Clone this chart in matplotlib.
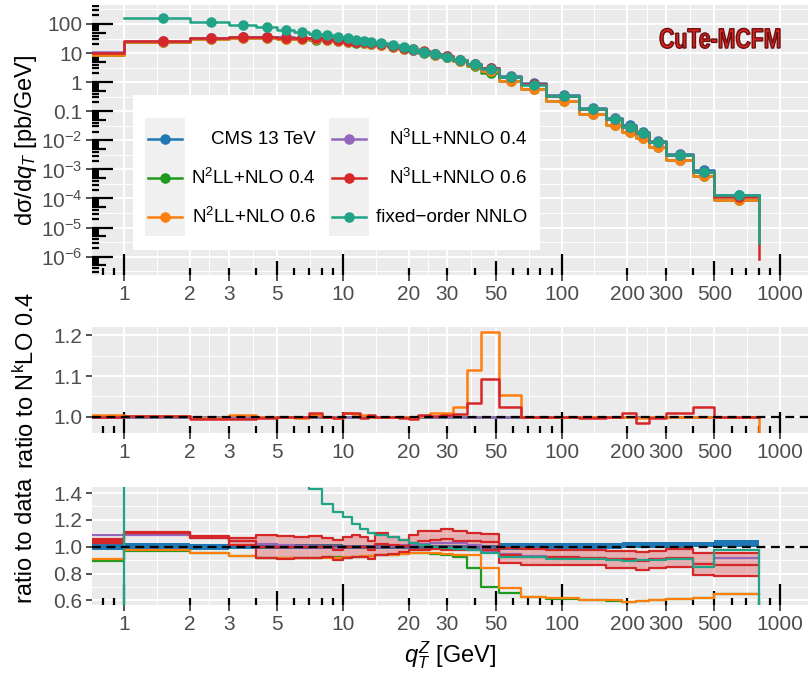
import numpy as np
import matplotlib
matplotlib.use("Agg")
import matplotlib.pyplot as plt
import matplotlib.transforms as mtransforms
import matplotlib.patheffects as pe
from matplotlib.patches import Rectangle, PathPatch
from matplotlib.lines import Line2D
from matplotlib.textpath import TextPath
from matplotlib.font_manager import FontProperties
from matplotlib.ticker import FixedLocator, FixedFormatter, NullFormatter

plt.rcParams["font.family"] = ["Liberation Sans", "DejaVu Sans"]
plt.rcParams["mathtext.fontset"] = "custom"
plt.rcParams["mathtext.rm"] = "Liberation Sans"
plt.rcParams["mathtext.it"] = "Liberation Sans:italic"
plt.rcParams["mathtext.default"] = "regular"

# qT bins of the CMS 13 TeV measurement [GeV]
edges = [0, 1, 2, 3, 4, 5, 6, 7, 8, 9, 10, 11, 12, 13, 14, 16, 18, 20, 22, 25,
         28, 32, 37, 43, 52, 65, 85, 120, 160, 190, 220, 250, 300, 400, 500, 800]

# measured d sigma / d qT [pb/GeV] and relative uncertainty (up / down)
cms = [9.8, 24.5, 32, 34.5, 35, 34.5, 33.5, 32, 30.5, 28.5, 27, 25, 23.5, 22, 20,
       17.5, 15, 13, 11, 9.2, 7.5, 5.7, 4.2, 3.0, 1.62, 0.9, 0.36, 0.134, 0.058,
       0.033, 0.0195, 0.0097, 0.0034, 0.00095, 0.000135]
cms_err_up = [0.025, 0.025, 0.022, 0.02, 0.02, 0.02, 0.02, 0.02, 0.02, 0.02,
              0.015, 0.015, 0.015, 0.015, 0.015, 0.015, 0.015, 0.015, 0.015, 0.015,
              0.015, 0.015, 0.015, 0.015, 0.028, 0.028, 0.028, 0.028, 0.028,
              0.032, 0.032, 0.032, 0.032, 0.037, 0.05]
cms_err_dn = [0.025, 0.025, 0.022, 0.02, 0.02, 0.02, 0.02, 0.02, 0.02, 0.02,
              0.015, 0.015, 0.015, 0.015, 0.015, 0.015, 0.015, 0.015, 0.015, 0.015,
              0.015, 0.015, 0.015, 0.015, 0.025, 0.025, 0.025, 0.02, 0.015,
              0.01, 0.01, 0.01, 0.01, 0.005, 0.005]

# predictions divided by data (bottom panel)
r_n2ll_04 = [0.895, 0.97, 0.955, 0.93, 0.915, 0.915, 0.915, 0.915, 0.92, 0.92,
             0.915, 0.92, 0.925, 0.93, 0.935, 0.94, 0.945, 0.95, 0.95, 0.945,
             0.94, 0.92, 0.843, 0.697, 0.657, 0.625, 0.612, 0.603, 0.598, 0.588,
             0.596, 0.603, 0.608, 0.618, 0.645]
r_n2ll_06 = [0.905, 0.972, 0.952, 0.932, 0.915, 0.915, 0.913, 0.916, 0.918, 0.916,
             0.92, 0.925, 0.928, 0.93, 0.935, 0.94, 0.945, 0.95, 0.952, 0.95,
             0.948, 0.94, 0.938, 0.838, 0.69, 0.627, 0.614, 0.605, 0.6, 0.59,
             0.598, 0.605, 0.61, 0.62, 0.647]
r_n3ll_04 = [1.087, 1.09, 1.062, 1.04, 1.02, 1.012, 1.008, 1.0, 0.995, 0.99,
             0.995, 1.0, 1.0, 1.0, 1.0, 1.005, 1.01, 1.015, 1.02, 1.025,
             1.03, 1.025, 1.015, 0.96, 0.945, 0.93, 0.92, 0.915, 0.91, 0.905,
             0.9, 0.905, 0.91, 0.87, 0.913]
r_n3ll_06 = [1.04, 1.105, 1.072, 1.04, 1.0, 0.995, 0.995, 1.0, 0.995, 0.975,
             0.995, 1.0, 1.0, 0.975, 1.02, 1.01, 1.005, 1.03, 1.045, 1.05,
             1.055, 1.045, 1.04, 1.035, 0.935, 0.925, 0.92, 0.915, 0.905, 0.905,
             0.895, 0.905, 0.915, 0.87, 0.863]
band_hi = [1.057, 1.11, 1.08, 1.062, 1.087, 1.082, 1.075, 1.082, 1.067, 1.05,
           1.075, 1.087, 1.075, 1.04, 1.10, 1.075, 1.05, 1.087, 1.117, 1.117,
           1.13, 1.115, 1.105, 1.092, 0.988, 0.98, 0.975, 0.972, 0.965, 0.97,
           0.963, 0.97, 0.98, 0.95, 0.955]
band_lo = [1.025, 1.1, 1.065, 1.01, 0.913, 0.905, 0.913, 0.913, 0.92, 0.9,
           0.913, 0.92, 0.92, 0.905, 0.935, 0.945, 0.96, 0.975, 0.975, 0.98,
           0.975, 0.975, 0.975, 0.975, 0.876, 0.863, 0.862, 0.86, 0.843, 0.84,
           0.826, 0.84, 0.85, 0.79, 0.78]
r_fixed = [-2.0, 6.4, 3.7, 2.67, 2.2, 1.86, 1.64, 1.43, 1.32, 1.26,
           1.22, 1.17, 1.13, 1.1, 1.087, 1.075, 1.05, 1.025, 1.012, 1.0,
           0.99, 0.985, 0.975, 0.955, 0.925, 0.92, 0.91, 0.905, 0.9, 0.895,
           0.9, 0.9, 0.905, 0.85, 0.975]

# ratio 0.6 / 0.4 at the same order (middle panel)
mid_n2ll = [1.004, 1.002, 0.996, 1.004, 1.0, 1.0, 0.996, 1.003, 0.999, 0.996,
            1.008, 1.006, 1.004, 1.0, 1.0, 1.0, 1.0, 0.997, 1.002, 1.01,
            1.01, 1.025, 1.115, 1.207, 1.053, 1.0, 1.0, 1.0, 1.0, 1.0,
            0.996, 1.0, 1.0, 1.0, 1.0]
mid_n3ll = [1.0, 1.002, 0.994, 0.994, 0.998, 1.0, 1.0, 1.008, 1.0, 0.996,
            1.009, 1.01, 0.998, 1.004, 1.0, 1.0, 0.998, 0.995, 1.004, 1.002,
            1.004, 1.007, 1.033, 1.093, 1.025, 1.0, 1.0, 0.998, 1.0, 1.008,
            0.984, 0.998, 1.01, 1.023, 1.0]

# where the last step drops at 800 GeV
tail_fixed_top = 3e-6
tail_n3ll06_top = 8e-7
tail_n2ll_mid = 0.9
tail_fixed_bot = 0.0

labels = ["CMS 13 TeV", "N$^2$LL+NLO 0.4", "N$^2$LL+NLO 0.6",
          "N$^3$LL+NNLO 0.4", "N$^3$LL+NNLO 0.6", "fixed\u2212order NNLO"]
colors = ["#1f77b4", "#1e9a1e", "#ff7f0e", "#9467bd", "#d62728", "#20a386"]

xbreaks = [1, 2, 3, 5, 10, 20, 30, 50, 100, 200, 300, 500, 1000]
xlim = (0.7115, 1341)

W, H = 809, 673
fig = plt.figure(figsize=(W / 100, H / 100), dpi=100)
pxT = mtransforms.Affine2D().scale(1 / W, -1 / H).translate(0, 1) + fig.transFigure


def px_box(l, t, r, b):
    return [l / W, 1 - b / H, (r - l) / W, (b - t) / H]


ax_top = fig.add_axes(px_box(92, 5, 808, 275))
ax_mid = fig.add_axes(px_box(92, 327, 808, 433))
ax_bot = fig.add_axes(px_box(92, 487, 808, 605))

xe = np.array(edges, float)
xe[0] = 0.1  # first bin starts at 0, not on a log axis
xs = np.repeat(xe, 2)[1:-1]
xmid = 0.5 * (np.array(edges[:-1], float) + np.array(edges[1:], float))


def st(v):
    return np.repeat(np.asarray(v, float), 2)


def style(ax, ylim, yticks, ylabs, yminor, h_px, logy=False):
    ax.set_facecolor("#EBEBEB")
    ax.set_xscale("log")
    if logy:
        ax.set_yscale("log")
    for s in ax.spines.values():
        s.set_visible(False)
    ax.xaxis.set_major_locator(FixedLocator(xbreaks))
    ax.xaxis.set_major_formatter(FixedFormatter([str(b) for b in xbreaks]))
    ax.xaxis.set_minor_locator(FixedLocator(np.sqrt(np.array(xbreaks[:-1]) * np.array(xbreaks[1:]))))
    ax.xaxis.set_minor_formatter(NullFormatter())
    ax.yaxis.set_major_locator(FixedLocator(yticks))
    ax.yaxis.set_major_formatter(FixedFormatter(ylabs))
    ax.yaxis.set_minor_locator(FixedLocator(yminor))
    ax.yaxis.set_minor_formatter(NullFormatter())
    ax.set_axisbelow(True)
    ax.grid(which="major", color="white", lw=1.4)
    ax.grid(which="minor", color="white", lw=0.7)
    ax.tick_params(which="major", length=4, width=1.2, color="#333333",
                   labelcolor="#4D4D4D", labelsize=15, pad=3)
    ax.tick_params(which="minor", length=0)
    # log ticks inside the panel along the bottom
    tr = mtransforms.blended_transform_factory(ax.transData, ax.transAxes)
    for dec in [0.1, 1, 10, 100, 1000]:
        for k in range(1, 10):
            v = k * dec
            if xlim[0] < v < xlim[1]:
                L = 21 if k == 1 else 14 if k == 5 else 7
                ax.plot([v, v], [0, L / h_px], transform=tr, color="black",
                        lw=1.6, solid_capstyle="butt", zorder=1.2)
    if logy:
        tr = mtransforms.blended_transform_factory(ax.transAxes, ax.transData)
        for n in range(-7, 3):
            for k in range(1, 10):
                v = k * 10.0 ** n
                if ylim[0] < v < ylim[1]:
                    L = 21 if k == 1 else 14 if k == 5 else 7
                    ax.plot([0, L / 716], [v, v], transform=tr, color="black",
                            lw=1.6, solid_capstyle="butt", zorder=1.2)
    ax.set_xlim(*xlim)
    ax.set_ylim(*ylim)


# ---- top panel: spectra
cms_a = np.array(cms)
ratios = [np.ones(len(cms)), r_n2ll_04, r_n2ll_06, r_n3ll_04, r_n3ll_06, r_fixed]
tops = []
for r in ratios:
    v = cms_a * np.array(r)
    tops.append(np.where(v > 0, v, np.nan))

for i, (v, c) in enumerate(zip(tops, colors)):
    z = 3 + i
    if i == 4:
        ax_top.plot([edges[-1]] * 2, [v[-1], tail_n3ll06_top], color=c, lw=1.8, zorder=z)
    if i == 5:
        ax_top.plot([edges[-1]] * 2, [v[-1], tail_fixed_top], color=c, lw=1.8, zorder=z)
    ax_top.plot(xs, st(v), color=c, lw=1.8, zorder=z)
    ax_top.plot(xmid, v, "o", ms=7.6, color=c, mec="none", zorder=z + 0.5)

style(ax_top, (2.34e-7, 450), [10.0 ** n for n in range(-6, 3)],
      ["10$^{-6}$", "10$^{-5}$", "10$^{-4}$", "10$^{-3}$", "10$^{-2}$", "0.1", "1", "10", "100"],
      [10.0 ** (n + 0.5) for n in range(-7, 3)], 270, logy=True)

# ---- middle panel: ratio to the 0.4 variant
one = np.ones(len(cms))
ax_mid.plot(xs, st(one), color=colors[1], lw=1.8, zorder=3)
ax_mid.plot(xs, st(one), color=colors[3], lw=1.8, zorder=3.1)
ax_mid.plot([edges[-1]] * 2, [mid_n2ll[-1], tail_n2ll_mid], color=colors[2], lw=1.8, zorder=4)
ax_mid.plot(xs, st(mid_n2ll), color=colors[2], lw=1.8, zorder=4)
ax_mid.plot(xs, st(mid_n3ll), color=colors[4], lw=1.8, zorder=5)
ax_mid.axhline(1.0, color="black", lw=1.6, ls=(0, (4, 2.5)), zorder=10)
style(ax_mid, (0.96, 1.2204), [1.0, 1.1, 1.2], ["1.0", "1.1", "1.2"], [1.05, 1.15], 106)

# ---- bottom panel: ratio to data
ax_bot.fill_between(xs, st(1 - np.array(cms_err_dn)), st(1 + np.array(cms_err_up)),
                    color=colors[0], lw=0, zorder=2)
ax_bot.fill_between(xs, st(band_lo), st(band_hi), color=colors[4], alpha=0.3, lw=0, zorder=2.5)
ax_bot.plot(xs, st(r_n2ll_04), color=colors[1], lw=1.6, zorder=3)
ax_bot.plot(xs, st(r_n2ll_06), color=colors[2], lw=1.6, zorder=3.2)
ax_bot.plot(xs, st(r_n3ll_04), color=colors[3], lw=1.6, zorder=3.4)
ax_bot.plot(xs, st(band_hi), color=colors[4], lw=1.6, zorder=3.6)
ax_bot.plot(xs, st(band_lo), color=colors[4], lw=1.6, zorder=3.6)
ax_bot.plot(xs, st(r_n3ll_06), color=colors[4], lw=1.6, zorder=3.7)
ax_bot.plot([edges[-1]] * 2, [r_fixed[-1], tail_fixed_bot], color=colors[5], lw=1.6, zorder=4)
ax_bot.plot(xs, st(r_fixed), color=colors[5], lw=1.6, zorder=4)
ax_bot.axhline(1.0, color="black", lw=1.6, ls=(0, (4, 2.5)), zorder=10)
style(ax_bot, (0.565, 1.4455), [0.6, 0.8, 1.0, 1.2, 1.4], ["0.6", "0.8", "1.0", "1.2", "1.4"],
      [0.7, 0.9, 1.1, 1.3], 118)

# ---- legend inside the top panel
fig.add_artist(Rectangle((133, 95), 407, 155, transform=pxT, facecolor="white",
                         edgecolor="none", zorder=20))
rows = [139, 178, 217]
for col, (kx, tx) in enumerate([(145, 316), (329, 527)]):
    fig.add_artist(Rectangle((kx, 118), 40, 118, transform=pxT, facecolor="#F0F0F0",
                             edgecolor="none", zorder=21))
    for j, ry in enumerate(rows):
        i = col * 3 + j
        fig.add_artist(Line2D([kx + 3, kx + 37], [ry, ry], transform=pxT, color=colors[i],
                              lw=1.8, zorder=22))
        fig.add_artist(Line2D([kx + 20], [ry], transform=pxT, color=colors[i], marker="o",
                              ms=7.6, mec="none", zorder=23))
        fig.text(tx, ry, labels[i], transform=pxT, ha="right", va="center",
                 fontsize=13.5, color="black", zorder=23)

# ---- logo: condensed bold lettering, 120 px wide and 20 px cap height
logo = TextPath((0, 0), "CuTe-MCFM", size=1,
                prop=FontProperties(family="Liberation Sans", weight="bold"))
ext = logo.get_extents()
sx = 120 / ext.width
sy = 28.0
logo_tr = (mtransforms.Affine2D().translate(-ext.x0, 0).scale(sx, sy)
           .translate(660, H - 48).scale(1 / W, 1 / H) + fig.transFigure)
fig.add_artist(PathPatch(logo, transform=logo_tr, facecolor="#d8231f",
                         edgecolor="#6a1010", lw=1.0, zorder=20))

# ---- axis titles
fig.text(26, 140, r"d$\sigma$/d$\mathit{q}_{\mathit{T}}$ [pb/GeV]", transform=pxT,
         rotation=90, ha="center", va="center", fontsize=17)
fig.text(26, 380, "ratio to N$^k$LO 0.4", transform=pxT, rotation=90,
         ha="center", va="center", fontsize=17)
fig.text(26, 540, "ratio to data", transform=pxT, rotation=90,
         ha="center", va="center", fontsize=17)
fig.text(450, 655, r"$\mathit{q}_{\mathit{T}}^{\mathit{Z}}$ [GeV]", transform=pxT,
         ha="center", va="center", fontsize=17)

fig.savefig("out.png", dpi=100)
